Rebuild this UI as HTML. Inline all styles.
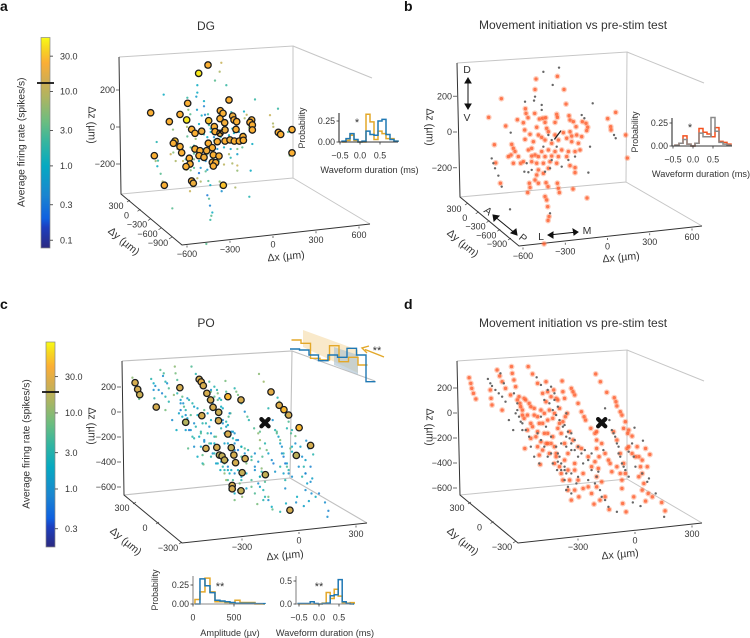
<!DOCTYPE html>
<html lang="en">
<head>
<meta charset="utf-8">
<title>DG and PO unit locations</title>
<style>
html,body{margin:0;padding:0;background:#fff;}
svg{display:block;filter:blur(0.35px);}
text{font-family:"Liberation Sans",sans-serif;fill:#333;}
</style>
</head>
<body>
<svg id="figure" xmlns="http://www.w3.org/2000/svg" width="750" height="638" viewBox="0 0 750 638">
<defs>
<linearGradient id="cmap" x1="0" y1="1" x2="0" y2="0">
<stop offset="0" stop-color="#2c2a80"/><stop offset="0.1" stop-color="#1c3fc0"/><stop offset="0.14" stop-color="#0f60e0"/>
<stop offset="0.25" stop-color="#1b85d0"/><stop offset="0.39" stop-color="#06a9c1"/><stop offset="0.5" stop-color="#33b5a0"/>
<stop offset="0.6" stop-color="#6bbd80"/><stop offset="0.72" stop-color="#b0b460"/><stop offset="0.8" stop-color="#d4ad50"/>
<stop offset="0.88" stop-color="#fbae35"/><stop offset="0.95" stop-color="#f7d820"/><stop offset="1" stop-color="#f9fb15"/>
</linearGradient>
</defs>

<text x="0" y="11" font-size="14" font-weight="bold" style="fill:#111">a</text>
<text x="404" y="11" font-size="14" font-weight="bold" style="fill:#111">b</text>
<text x="0" y="309" font-size="14" font-weight="bold" style="fill:#111">c</text>
<text x="404" y="309" font-size="14" font-weight="bold" style="fill:#111">d</text>

<text x="206" y="30" font-size="12" text-anchor="middle">DG</text>
<text x="573" y="29" font-size="12" text-anchor="middle">Movement initiation vs pre-stim test</text>
<text x="206" y="327" font-size="12" text-anchor="middle">PO</text>
<text x="573" y="327" font-size="12" text-anchor="middle">Movement initiation vs pre-stim test</text>

<g id="box-a" fill="none">
<path d="M119 57L293 46L293 178M121 194L293 178M293 46L372 78M293 178L370 224" stroke="#c6c6c6" stroke-width="1"/>
<path d="M119 57L121 194L182 245L370 224" stroke="#333" stroke-width="1"/>
</g>
<g id="box-b" fill="none">
<path d="M457 63L627 52L626 182M460 197L626 182M627 52L704 83M626 182L702 226" stroke="#c6c6c6" stroke-width="1"/>
<path d="M457 63L460 197L519 246L702 226" stroke="#333" stroke-width="1"/>
</g>
<g id="box-c" fill="none">
<path d="M122 361L292 351L290 478M124 495L290 478M292 351L375 381M290 478L367 523" stroke="#c0c0c0" stroke-width="1.1"/>
<path d="M122 361L124 495L182 543L367 523" stroke="#333" stroke-width="1"/>
</g>
<g id="box-d" fill="none">
<path d="M457 361L627 350L627 479M460 495L627 479M627 350L704 381M627 479L702 523" stroke="#c6c6c6" stroke-width="1"/>
<path d="M457 361L460 495L518 543L702 523" stroke="#333" stroke-width="1"/>
</g>

<g id="po-peak-inset">
<polygon points="303,330 358,350 358,373 303,347" fill="#f7dfb4" opacity="0.7"/>
<polygon points="334,347 358,355 358,375 334,365" fill="#a8bfd0" opacity="0.6"/>
</g>

<g id="layer"></g>

<g fill="none" stroke="#111" stroke-width="1">
<path d="M468 79V108M465 83L468 78L471 83ZM465 104L468 109L471 104Z" fill="#111"/>
<path d="M494 216L516 234M494 221L493 215L499 216ZM511 233L517 235L516 229Z" fill="#111"/>
<path d="M549 235L577 232M553 232L548 235L553 238ZM573 229L578 232L574 235Z" fill="#111"/>
</g>
<text x="467" y="73" font-size="10.500" text-anchor="middle">D</text>
<text x="467" y="121" font-size="10.500" text-anchor="middle">V</text>
<text x="488" y="214.500" font-size="10.500" text-anchor="middle" transform="rotate(38 488 211)">A</text>
<text x="523" y="241.500" font-size="10.500" text-anchor="middle" transform="rotate(38 523 238)">P</text>
<text x="541" y="240" font-size="10.500" text-anchor="middle">L</text>
<text x="587" y="234" font-size="10.500" text-anchor="middle">M</text>
<text x="377" y="354" font-size="11" text-anchor="middle">**</text>

<script>
// --- Tick values and labels ---------------------------------------------
const colorbarTicksA = [30, 10, 3, 1, 0.3, 0.1];
const colorbarLabelsA = ["30.0", "10.0", "3.0", "1.0", "0.3", "0.1"];
const colorbarTicksC = [30, 10, 3, 1, 0.3];
const colorbarLabelsC = ["30.0", "10.0", "3.0", "1.0", "0.3"];
const dgXTicks = [-600, -300, 0, 300, 600];
const dgYTicks = [300, 0, -300, -600, -900];
const dgZTicks = [200, 0, -200];
const poXTicks = [-300, 0, 300];
const poYTicks = [300, 0, -300];
const poZTicks = [200, 0, -200, -400, -600];
const waveTicks = [-0.5, 0, 0.5];
const waveLabels = ["\u22120.5", "0.0", "0.5"];
const ampTicks = [0, 500];

// --- DG units: [dx um, dz um, firing rate] ------------------------------
const dgHighRate = [[-72,362,25],[-128,317,45],[54,173,25],[-194,155,25],[-416,104,25],[-240,95,25],[-304,56,25],[-200,65,45],[-68,61,30],[2,115,25],[18,101,25],[0,72,25],[76,86,20],[84,65,25],[28,50,22],[100,56,25],[190,65,25],[180,52,25],[194,38,25],[194,11,25],[-34,29,25],[-170,14,25],[-150,-7,25],[-110,4,20],[-30,2,25],[0,-7,20],[30,11,20],[96,14,25],[350,-2,25],[364,-13,25],[432,13,25],[432,-113,25],[-270,-49,30],[-280,-61,25],[-240,-79,25],[-230,-112,25],[-394,-128,25],[-150,-92,25],[-120,-101,25],[-70,-61,25],[-46,-85,25],[-80,-101,22],[-126,-128,25],[-40,-124,25],[-6,-130,25],[-96,-137,22],[-184,-142,25],[-180,-173,25],[-204,-187,25],[-46,-164,25],[-26,-166,25],[-40,-184,25],[-16,-52,25],[30,-49,25],[60,-43,20],[86,-49,25],[116,-49,25],[138,-25,25],[140,-45,25],[-170,-265,25],[-160,-277,20],[-334,-288,25],[20,-288,30]];

const dgMovementUnits = [[-2,326,8],[-130,311,3],[-136,253,1],[38,253,2],[-338,202,1],[50,172,5],[-414,98,3],[-194,146,1],[-190,120,5],[-138,120,0.7],[-178,96,3],[-242,85,8],[-312,50,2],[-206,68,12],[-110,89,1],[-90,93,0.4],[-72,96,2],[-6,115,1],[68,107,1.5],[-2,98,3],[74,83,1],[-76,70,5],[-16,70,0.8],[94,74,1],[148,74,8],[170,65,10],[180,43,12],[174,24,6],[300,91,12],[348,126,2],[318,46,8],[320,28,10],[408,0,3],[418,-128,5],[-126,43,1],[-66,37,2],[-198,28,8],[-166,4,3],[-116,0,5],[-96,-13,1.5],[-196,-24,3],[-146,-37,6],[-56,18,1],[-16,0,1],[34,13,0.8],[74,18,1],[110,46,2],[84,-6,1],[114,0,0.7],[144,-9,3],[54,-18,1],[84,-37,0.6],[124,-46,2],[4,-28,1.2],[-36,-46,3],[-76,-28,1],[-276,-52,1],[-266,-74,8],[-380,-54,1.5],[-256,-92,10],[-280,-111,5],[-296,-120,12],[-236,-120,6],[-176,-83,3],[-156,-74,1.5],[-136,-111,8],[-96,-92,2],[-56,-83,1],[-16,-92,0.5],[24,-83,1],[64,-92,0.8],[104,-92,5],[-156,-117,3],[-116,-120,1],[-76,-120,5],[-36,-117,1.5],[4,-120,2],[54,-120,8],[134,-83,3],[-222,-157,10],[-206,-148,3],[-156,-148,5],[-126,-157,1],[-86,-157,0.4],[-46,-148,1.5],[-6,-157,3],[-372,-155,2],[74,-170,8],[104,-181,12],[104,-209,6],[-266,-157,8],[-126,-222,0.3],[-116,-194,0.5],[-86,-213,3],[-56,-185,1],[-136,-250,10],[-170,-268,5],[-166,-292,3],[-180,-320,12],[-116,-268,8],[-70,-265,3],[-58,-287,1],[-2,-268,6],[4,-296,5],[10,-320,0.5],[92,-300,8],[176,-350,1.5],[-344,-268,8],[-76,-342,0.3],[-66,-361,3],[-60,-398,0.4],[-52,-453,3],[-58,-475,2],[-82,-605,3]];

const dgOtherUnits = [[-86,351,10],[8,374,12],[-30,278,3],[-136,213,1],[-142,191,0.7],[-196,185,2],[-96,167,1],[-96,139,0.4],[210,176,2],[144,111,1],[160,93,10],[-282,13,5],[-56,0,1],[-36,-28,0.5],[-396,-130,1],[-386,-157,6],[-376,-185,1],[-356,-226,3],[-336,-287,12],[-200,-204,8],[-176,-207,5],[-76,-204,0.6],[-46,-185,5],[184,-209,1],[194,-65,1],[338,0,8],[348,-18,2],[-286,-413,3],[-46,-435,1],[-86,-65,0.8],[-6,-65,1],[64,-139,1.5],[104,-120,0.7],[-156,-194,3],[-186,-157,1],[-36,-139,3],[24,-176,10]];

// --- PO units: [dx um, dz um, firing rate] ------------------------------
const poHighRate = [[-693,320,25],[-679,267,25],[-668,224,22],[-580,125,25],[-454,280,25],[-351,347,25],[-340,326,30],[-329,296,25],[-310,235,25],[-290,182,25],[-277,123,25],[-247,83,22],[-248,16,25],[-337,56,25],[-423,3,16],[-198,208,45],[-128,182,25],[-198,-91,25],[-315,-206,25],[-257,-198,25],[-180,-200,20],[-243,-259,18],[-229,-267,20],[-216,-299,20],[-166,-259,25],[-157,-320,25],[-106,-288,25],[-122,-400,20],[-175,-502,25],[-175,-529,25],[-128,-545,20],[2,-416,20],[32,246,30],[76,139,28],[101,104,45],[126,61,25],[182,-40,45],[243,-182,25],[167,-262,18],[133,-700,25]];

const poMovementUnits = [[-707,360,10],[-698,315,8],[-693,275,5],[-684,235,12],[-671,190,6],[-594,262,1],[-590,195,3],[-585,142,1.5],[-558,422,6],[-544,374,1],[-531,328,3],[-513,275,5],[-486,222,10],[-531,101,8],[-481,449,10],[-477,395,8],[-468,342,5],[-459,288,12],[-441,208,6],[-436,155,1],[-423,101,3],[-414,35,1.5],[-396,-59,1],[-378,-125,3],[-410,-206,6],[-392,449,5],[-369,390,3],[-342,315,10],[-315,235,6],[-297,168,3],[-279,101,1],[-261,35,2],[-234,-45,3],[-297,328,5],[-288,248,8],[-256,262,3],[-243,195,1.5],[-225,115,2],[-194,48,5],[-211,334,8],[-207,248,5],[-198,195,12],[-184,75,6],[-162,275,3],[-144,222,8],[-126,155,2],[-108,88,1],[-86,21,3],[-58,-45,5],[-32,390,10],[-7,328,12],[27,243,8],[67,200,3],[81,134,1.5],[108,61,6],[126,8,5],[144,-59,3],[162,-107,8],[-414,195,1],[-387,155,3],[-360,115,1.5],[-342,48,5],[-315,-5,3],[-288,-85,1],[-270,-166,2],[-243,-246,3],[-450,182,1.5],[-432,128,5],[-423,61,1],[-369,-32,3],[-351,-112,2],[-342,-192,1.5],[-333,-259,6],[-328,-334,8],[-306,-85,3],[-297,-166,5],[-279,-246,1],[-252,-326,2],[-216,-406,10],[-207,-459,12],[-180,-539,5],[-162,-619,8],[-122,-593,10],[-144,-379,2],[-126,-459,3],[-99,-526,1.5],[-54,-566,5],[-108,-206,6],[-72,-272,3],[-36,-312,1],[-18,-366,10],[0,-473,5],[18,-593,8],[40,-694,6],[-27,-139,12],[-27,-206,8],[-14,-272,5],[0,-166,3],[18,-246,1.5],[63,-72,6],[81,-139,8],[99,-246,3],[117,-326,1.5],[126,-406,1],[108,-459,3],[108,-526,1],[45,-326,0.7],[54,-392,1.2],[112,-646,2],[130,-713,5],[-41,-651,8],[135,-206,8],[162,-246,2],[189,-192,1.5],[198,-272,1],[207,-352,3],[216,-406,1],[234,-206,1],[257,-254,3],[225,-486,1.5],[248,-566,1],[234,-627,1.5],[270,-593,2],[320,-638,1],[338,-705,0.8],
[-405,182,3],[-378,128,1.5],[-396,61,5],[-360,61,2],[-378,-5,1],[-333,-5,3],[-324,101,6],[-306,75,1.5],[-288,21,2],[-342,-72,3],[-324,-152,1],[-315,-219,5],[-288,-166,2],[-261,-112,8],[-252,-192,1.5],[-225,-352,3],[-243,-272,6],[-198,-299,1],[-180,-379,2],[-171,-459,5],[-144,-539,8],[-207,8,3],[-171,-72,1.5],[-153,-139,2],[-126,-192,5],[-180,-246,1],[-144,-326,3],[-99,-406,2],[-72,-513,6],[-27,-513,1.5],[-9,-619,3],[-54,-352,1],[-27,-432,5],[-252,75,3],[-225,-5,1],[-216,-85,2],[-198,-166,1.5],[-270,208,6],[-234,182,3],[-153,248,8],[-94,48,5],[-36,-85,10],[-27,-72,6],[36,-299,1],[81,-352,3],[99,-406,1.5],[144,-192,2],[180,-272,1],[216,-299,1.5],[198,-432,3],[216,-539,1],[171,-593,2],[243,-352,0.8],[117,-45,3],[139,-85,5],[76,168,8],[99,88,5]];

const poOtherUnits = [[-607,350,3],[-585,294,1],[-549,235,0.8],[-513,168,3],[-495,21,1],[-472,-59,2],[-540,395,5],[-522,315,1],[-468,235,3],[-459,75,1.5],[-432,8,2],[-405,-59,0.7],[-347,363,8],[-324,302,3],[-288,262,1],[-252,182,6],[-234,128,2],[-189,75,1],[-450,101,0.7],[-423,-5,1],[-360,-272,2],[-333,-326,3],[-324,48,2],[-297,-32,1],[-270,-112,3],[-243,-192,5],[-225,-272,1],[-198,-352,0.8],[-207,-32,1.5],[-189,-112,3],[-162,-166,1],[-144,-219,0.6],[-126,-272,5],[-99,-326,8],[-270,-246,3],[-234,-312,1],[-198,-379,2],[-162,-406,1],[-126,-433,1.5],[-72,-459,5],[-36,-486,1],[0,-593,3],[36,-673,2],[-189,-539,6],[-135,-486,8],[18,115,3],[41,21,1],[54,-59,3],[72,-112,1.5],[90,-192,1],[99,-272,0.7],[117,-352,5],[144,-432,1],[175,-40,3],[220,-144,1],[144,-232,2],[180,-352,1],[252,-446,1.5],[288,-566,0.8],[81,-713,3],[166,-638,1],[207,-667,1.5],[333,-753,1],[-54,-246,1],[-18,-392,3],[9,-219,8],
[-594,315,2],[-567,262,1],[-531,208,3],[-450,155,1],[-441,48,2],[-423,-59,1.5],[-387,-112,3],[-378,-192,1],[-342,-85,5],[-324,-139,1],[-306,-192,0.7],[-288,-272,3],[-261,-326,1.5],[-238,-379,2],[-306,182,6],[-279,155,1],[-261,101,3],[-243,61,1.5],[-225,21,0.8],[-198,-19,2],[-180,-72,1],[-171,-125,3],[-162,-219,1],[-189,-192,5],[-216,-166,1.5],[-234,-246,1],[-216,-326,3],[-189,-406,2],[-252,235,8],[-270,288,3],[-162,-85,1],[-144,-139,0.7],[-126,-192,2],[-108,-246,1],[-90,-219,3],[-72,-299,5],[-54,-379,1],[-27,-432,2],[-9,-539,3],[18,-619,1],[63,-85,5],[81,-166,1.5],[90,-246,1],[108,-326,0.6],[126,-379,3],[162,-166,1],[171,-272,1.5],[216,-406,0.8],[243,-473,1],[-216,-379,3],[-198,-459,5],[-180,-513,1],[-162,-566,2]];

// --- Histograms: probability per bin ------------------------------------
const dgBlueHist = [0.01,0.04,0.10,0.03,0.00,0.01,0.13,0.09,0.08,0.25,0.27,0.09,0.03,0.01];
const dgOrangeHist = [0.00,0.02,0.08,0.02,0.00,0.00,0.33,0.24,0.03,0.13,0.10,0.04,0.04,0.01];
const moveRedHist = [0.01,0.03,0.11,0.02,0.00,0.03,0.19,0.15,0.13,0.10,0.20,0.05,0.04,0.02];
const moveGrayHist = [0.01,0.03,0.07,0.02,0.00,0.03,0.14,0.10,0.10,0.31,0.16,0.04,0.02,0.01];
const ampOrangeHist = [0.06,0.16,0.34,0.16,0.03,0.03,0.02,0.01,0.05,0.02,0.02,0.02,0.00,0.00];
const ampBlueHist = [0.00,0.33,0.24,0.15,0.05,0.04,0.03,0.02,0.01,0.01,0.01,0.01,0.005,0.005];
const poWaveBlueHist = [0.01,0.01,0.01,0.05,0.01,0.00,0.01,0.02,0.18,0.20,0.53,0.05,0.01,0.00];
const poWaveOrangeHist = [0.00,0.00,0.00,0.00,0.00,0.00,0.02,0.25,0.12,0.32,0.17,0.03,0.02,0.03];
const calloutOrangeHist = [90,80,35,30,73,25,38,15];
const calloutBlueHist = [63,60,45,28,45,38,65,45,-35];

// --- Helpers -------------------------------------------------------------
const SVGNS = "http://www.w3.org/2000/svg";
const layer = document.getElementById("layer");
function mk(tag, attrs, parent) {
  const el = document.createElementNS(SVGNS, tag);
  for (const k in attrs) el.setAttribute(k, attrs[k]);
  (parent || layer).appendChild(el);
  return el;
}
function label(str, x, y, size, anchor, rotate) {
  const el = mk("text", {x: x, y: y + size * 0.35, "font-size": size, "text-anchor": anchor || "middle"});
  if (rotate) el.setAttribute("transform", "rotate(" + rotate + " " + x + " " + y + ")");
  el.textContent = str;
  return el;
}
const cmapStops = [[0,[44,42,128]],[0.1,[28,63,192]],[0.14,[15,96,224]],[0.25,[27,133,208]],[0.39,[6,169,193]],[0.5,[51,181,160]],[0.6,[107,189,128]],[0.72,[176,180,96]],[0.8,[212,173,80]],[0.88,[251,174,53]],[0.95,[247,216,32]],[1,[249,251,21]]];
function cmap(t) {
  t = Math.max(0, Math.min(1, t));
  for (let i = 1; i < cmapStops.length; i++) {
    if (t <= cmapStops[i][0]) {
      const a = cmapStops[i - 1], b = cmapStops[i], f = (t - a[0]) / (b[0] - a[0]);
      return "rgb(" + a[1].map((v, j) => Math.round(v + (b[1][j] - v) * f)).join(",") + ")";
    }
  }
  return "rgb(249,251,21)";
}

// --- Colorbars -------------------------------------------------------------
function drawColorbar(p, ticks, labels) {
  const y = r => p.y1 - p.oneAt * p.h - Math.log10(r) * p.decade * p.h;
  const bar = mk("rect", {x: p.x, y: p.y1 - p.h, width: 9, height: p.h, fill: "url(#cmap)", stroke: "#888", "stroke-width": 0.7});
  
  
  ticks.forEach((r, i) => {
    const t = mk("line", {x1: p.x + 9, x2: p.x + 12, y1: y(r), y2: y(r), stroke: "#333", "stroke-width": 0.8});
    
    
    const l = label(labels[i], p.x + 19, y(r), 9, "start");
    
    
  });
  const m = mk("line", {x1: p.x - 4, x2: p.x + 13, y1: p.markerY, y2: p.markerY, stroke: "#111", "stroke-width": 1.8});
  
  
  const c = label("Average firing rate (spikes/s)", p.x - 20, p.y1 - p.h / 2 - 0.5, 10.2, "middle", -90);
  
  
}
drawColorbar({name: "dg", x: 41, y1: 248, h: 210.5, oneAt: 0.39, decade: 0.353, markerY: 83}, colorbarTicksA, colorbarLabelsA);
drawColorbar({name: "po", x: 46, y1: 547, h: 205, oneAt: 0.283, decade: 0.371, markerY: 392}, colorbarTicksC, colorbarLabelsC);

// --- 3D box axes -----------------------------------------------------------
function drawAxes(p) {
  const xPos = v => [p.x0[0] + (v - p.xMin) / (p.xMax - p.xMin) * (p.x1[0] - p.x0[0]), p.x0[1] + (v - p.xMin) / (p.xMax - p.xMin) * (p.x1[1] - p.x0[1])];
  const yPos = v => [p.y0[0] + (p.yMax - v) / (p.yMax - p.yMin) * (p.y1[0] - p.y0[0]), p.y0[1] + (p.yMax - v) / (p.yMax - p.yMin) * (p.y1[1] - p.y0[1])];
  const zPos = v => p.z0 - v * p.zScale;
  p.xTicks.forEach(v => {
    const q = xPos(v);
    const t = mk("line", {x1: q[0], x2: q[0], y1: q[1] - 8.5, y2: q[1] - 6.5, stroke: "#333", "stroke-width": 0.7});
    
    
    const l = label(String(v).replace("-", "\u2212"), q[0], q[1], 9);
    
    
  });
  p.yTicks.forEach(v => {
    const q = yPos(v);
    const t = mk("line", {x1: q[0] + 11, x2: q[0] + 14, y1: q[1] - 4, y2: q[1] - 6, stroke: "#333", "stroke-width": 0.7});
    
    
    const l = label(String(v).replace("-", "\u2212"), q[0], q[1], 9);
    
    
  });
  p.zTicks.forEach(v => {
    const t = mk("line", {x1: p.zX, x2: p.zX + 4, y1: zPos(v), y2: zPos(v), stroke: "#333", "stroke-width": 0.7});
    
    
    const l = label(String(v).replace("-", "\u2212"), p.zX - 1, zPos(v), 9, "end");
    
    
  });
  const lx = label("\u0394x (\u00b5m)", p.xLab[0], p.xLab[1], 10.6, "middle", -5);
  
  
  const ly = label("\u0394y (\u00b5m)", p.yLab[0], p.yLab[1], 10.6, "middle", 40);
  
  
  const lz = label("\u0394z (\u00b5m)", p.zLab[0], p.zLab[1], 10.6, "middle", 90);
  
  
}
const dgAxis = {xMin: -600, xMax: 600, yMax: 300, yMin: -900, xTicks: dgXTicks, yTicks: dgYTicks, zTicks: dgZTicks};
const poAxis = {xMin: -300, xMax: 300, yMax: 300, yMin: -300, xTicks: poXTicks, yTicks: poYTicks, zTicks: poZTicks};
drawAxes(Object.assign({x0: [187, 254], x1: [359, 235], y0: [116, 206], y1: [158, 243], z0: 127, zScale: 0.185, zX: 116, xLab: [286, 256], yLab: [124, 241], zLab: [92, 125]}, dgAxis));
drawAxes(Object.assign({x0: [523, 256], x1: [692, 237], y0: [454, 209], y1: [497, 244], z0: 132, zScale: 0.179, zX: 453, xLab: [621, 257], yLab: [463, 243], zLab: [430, 127]}, dgAxis));
drawAxes(Object.assign({x0: [242, 547], x1: [356, 534], y0: [122, 508], y1: [168, 548], z0: 412, zScale: 0.125, zX: 117, xLab: [285, 555], yLab: [126, 541], zLab: [92, 426]}, poAxis));
drawAxes(Object.assign({x0: [578, 547], x1: [692, 534], y0: [457, 508], y1: [502, 547], z0: 413, zScale: 0.125, zX: 453, xLab: [620, 554], yLab: [463, 541], zLab: [430, 427]}, poAxis));

// --- Scatter projections ---------------------------------------------------
const projA = u => [220 + u[0] / 6, 132 - u[1] * 0.185];
const projB = u => [557.7 + u[0] / 6, 135 - u[1] * 0.18];
const projC = u => [265 + u[0] * 0.1875, 422.7 - u[1] * 0.125];
const projD = u => [601.7 + u[0] * 0.1875, 422.7 - u[1] * 0.125];
const rateA = r => 0.39 + Math.log10(r) * 0.353;
const rateC = r => 0.283 + Math.log10(r) * 0.371;

function smallDots(units, proj, rate, name) {
  units.forEach(u => {
    const q = proj(u);
    const c = mk("circle", {cx: q[0], cy: q[1], r: 1.15, fill: cmap(rate(u[2])), opacity: 0.85});
    
    
  });
}
function bigDots(units, proj, rate, name) {
  units.forEach(u => {
    const q = proj(u);
    const c = mk("circle", {cx: q[0], cy: q[1], r: 3.2, fill: cmap(rate(u[2])), stroke: "#1c1c1c", "stroke-width": 1.3});
    
    
  });
}
function movementDots(units, proj, name) {
  units.forEach(u => {
    const q = proj(u);
    const h = mk("circle", {cx: q[0], cy: q[1], r: 3, fill: "#ff8a60", opacity: 0.4});
    
    
    const c = mk("circle", {cx: q[0], cy: q[1], r: 1.7, fill: "#ff5a28", opacity: 0.75});
    
    
  });
}
function grayDots(units, proj, name) {
  units.forEach(u => {
    const q = proj(u);
    const c = mk("circle", {cx: q[0], cy: q[1], r: 1.2, fill: "#666"});
    
    
  });
}
function crossMark(q, size, width, name) {
  const a = mk("path", {d: "M" + (q[0] - size) + " " + (q[1] - size) + "L" + (q[0] + size) + " " + (q[1] + size) + "M" + (q[0] + size) + " " + (q[1] - size) + "L" + (q[0] - size) + " " + (q[1] + size), stroke: "#111", "stroke-width": width, "stroke-linecap": "round", fill: "none"});
  
  
}
function slashMark(q, name) {
  const a = mk("path", {d: "M" + (q[0] - 3) + " " + (q[1] + 4) + "L" + (q[0] + 3) + " " + (q[1] - 4), stroke: "#222", "stroke-width": 1.3, "stroke-linecap": "round", fill: "none"});
  
  
}

smallDots(dgMovementUnits, projA, rateA, "dg-unit");
smallDots(dgOtherUnits, projA, rateA, "dg-unit");
bigDots(dgHighRate, projA, rateA, "dg-high-rate-unit");
crossMark(projA([0, 0]), 2.5, 1.4, "dg-reference-cross");

movementDots(dgMovementUnits, projB, "dg-movement-unit");
grayDots(dgOtherUnits, projB, "dg-nonsignificant-unit");
slashMark(projB([0, 0]), "dg-movement-reference-mark");

smallDots(poMovementUnits, projC, rateC, "po-unit");
smallDots(poOtherUnits, projC, rateC, "po-unit");
bigDots(poHighRate, projC, rateC, "po-high-rate-unit");
crossMark(projC([0, 0]), 3.6, 4.2, "po-reference-cross");

movementDots(poMovementUnits, projD, "po-movement-unit");
grayDots(poOtherUnits, projD, "po-nonsignificant-unit");
crossMark(projD([0, 0]), 3.6, 4.2, "po-movement-reference-cross");

// --- Histograms --------------------------------------------------------------
function drawHist(p) {
  const xs = v => p.xAt0 + v * p.xScale;
  const ys = v => p.yAt0 - v * p.yScale;
  p.series.forEach(s => {
    let d = "M" + xs(p.binStart) + " " + ys(0);
    s.values.forEach((v, i) => {
      d += "L" + xs(p.binStart + i * p.binStep) + " " + ys(v) + "L" + xs(p.binStart + (i + 1) * p.binStep) + " " + ys(v);
    });
    d += "L" + xs(p.binStart + s.values.length * p.binStep) + " " + ys(0);
    const path = mk("path", {d: d, fill: "none", stroke: s.color, "stroke-width": 1.5});
    
    
  });
  const sp = mk("path", {d: "M" + p.left + " " + p.top + "V" + p.yAt0 + "H" + p.right, fill: "none", stroke: p.spine, "stroke-width": 1.1});
  
  
  p.yTicks.forEach((v, i) => {
    const t = mk("line", {x1: p.left - 2.5, x2: p.left, y1: ys(v), y2: ys(v), stroke: "#333", "stroke-width": 0.8});
    
    
    const l = label(p.yLabels[i], p.left - 4, ys(v), 8.8, "end");
    
    
  });
  p.xTicks.forEach((v, i) => {
    const t = mk("line", {x1: xs(v), x2: xs(v), y1: p.yAt0, y2: p.yAt0 + 2.5, stroke: "#333", "stroke-width": 0.8});
    
    
    const l = label(p.xLabels[i], xs(v), p.yAt0 + 13.5, 8.8);
    
    
  });
  const xl = label(p.xTitle, p.xTitlePos[0], p.xTitlePos[1], 9.2);
  
  
  if (p.yTitlePos) {
    const yl = label("Probability", p.yTitlePos[0], p.yTitlePos[1], 8.8, "middle", -90);
    
    
  }
  const st = label(p.stars, p.starsPos[0], p.starsPos[1], 11);
  
  
}
const orange = "#e3a82a", blue = "#1f78b4", red = "#f4511e", gray = "#8a8a8a";
const wave = {binStep: 0.1, xTicks: waveTicks, xLabels: waveLabels, xTitle: "Waveform duration (ms)"};
drawHist(Object.assign({}, wave, {xAt0: 360, xScale: 40, yAt0: 142, yScale: 84, binStart: -0.45, left: 339, top: 113, right: 398, spine: "#333", yTicks: [0, 0.25], yLabels: ["0.00", "0.25"], xTitlePos: [369.5, 170], yTitlePos: [302, 128], stars: "*", starsPos: [357, 122], series: [{values: dgOrangeHist, color: orange, name: "dg-orange-histogram"}, {values: dgBlueHist, color: blue, name: "dg-blue-histogram"}]}));
drawHist(Object.assign({}, wave, {xAt0: 693, xScale: 40, yAt0: 146, yScale: 92, binStart: -0.45, left: 672, top: 118, right: 732, spine: "#333", yTicks: [0, 0.25], yLabels: ["0.00", "0.25"], xTitlePos: [701, 174], yTitlePos: [635, 132], stars: "*", starsPos: [690, 127], series: [{values: moveRedHist, color: red, name: "movement-red-histogram"}, {values: moveGrayHist, color: gray, name: "movement-gray-histogram"}]}));
drawHist({xAt0: 193, xScale: 0.082, yAt0: 604, yScale: 76, binStart: 24, binStep: 61, left: 193, top: 576, right: 263, spine: "#888", yTicks: [0, 0.25], yLabels: ["0.00", "0.25"], xTicks: ampTicks, xLabels: ["0", "500"], xTitle: "Amplitude (\u00b5v)", xTitlePos: [230, 633], yTitlePos: [155, 590], stars: "**", starsPos: [220, 586], series: [{values: ampOrangeHist, color: orange, name: "amplitude-orange-histogram"}, {values: ampBlueHist, color: blue, name: "amplitude-blue-histogram"}]});
drawHist(Object.assign({}, wave, {xAt0: 319, xScale: 40, yAt0: 604, yScale: 46, binStart: -0.52, left: 296, top: 576, right: 353, spine: "#888", yTicks: [0, 0.5], yLabels: ["0.0", "0.5"], xTitlePos: [325, 633], stars: "**", starsPos: [319, 586], series: [{values: poWaveOrangeHist, color: orange, name: "po-waveform-orange-histogram"}, {values: poWaveBlueHist, color: blue, name: "po-waveform-blue-histogram"}]}));

// --- Callout histogram above panel c ---------------------------------------
function calloutLine(values, startX, color, name) {
  const xs = i => startX + i * 9.5;
  const ys = v => 370 - v / 3;
  let d = "";
  values.forEach((v, i) => {
    d += (i ? "L" : "M") + xs(i) + " " + ys(v) + "L" + xs(i + 1) + " " + ys(v);
  });
  const path = mk("path", {d: d, fill: "none", stroke: color, "stroke-width": 1.4});
  
  
}
calloutLine(calloutOrangeHist, 291.500, orange, "callout-orange-histogram");
calloutLine(calloutBlueHist, 290, blue, "callout-blue-histogram");
const arrowLine = mk("path", {d: "M384 357L365 349.500M369 346L362 348L367 353", fill: "none", stroke: orange, "stroke-width": 1.4});


</script>
</svg>
</body>
</html>
